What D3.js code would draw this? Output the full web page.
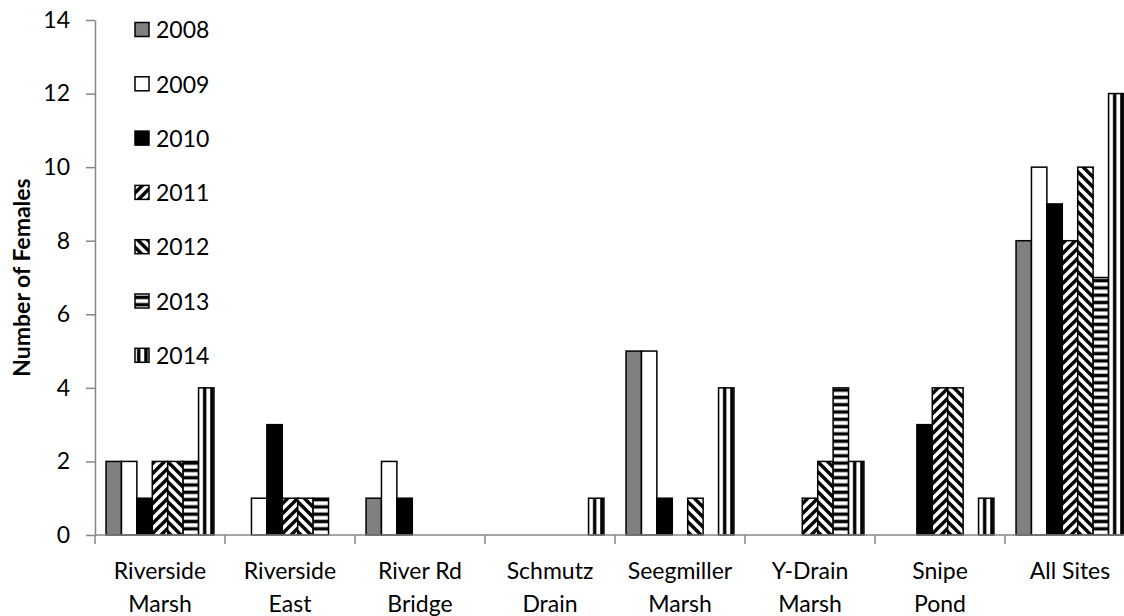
<!DOCTYPE html>
<html>
<head>
<meta charset="utf-8">
<script src="https://cdn.jsdelivr.net/npm/d3@7"></script>
<style>
  body { margin: 0; background: #fff; }
  text { font-family: Lato, "Open Sans", sans-serif; fill: #000; }
</style>
</head>
<body>
<svg id="chart"></svg>
<script>
// --- Data ---
const sites = [
    ["Riverside", "Marsh"], ["Riverside", "East"], ["River Rd", "Bridge"], ["Schmutz", "Drain"],
    ["Seegmiller", "Marsh"], ["Y-Drain", "Marsh"], ["Snipe", "Pond"], ["All Sites"]
];
const years = ["2008", "2009", "2010", "2011", "2012", "2013", "2014"];
// counts[site][year]
const counts = [
    [2, 2, 1, 2, 2, 2, 4],
    [0, 1, 3, 1, 1, 1, 0],
    [1, 2, 1, 0, 0, 0, 0],
    [0, 0, 0, 0, 0, 0, 1],
    [5, 5, 1, 0, 1, 0, 4],
    [0, 0, 0, 1, 2, 4, 2],
    [0, 0, 3, 4, 4, 0, 1],
    [8, 10, 9, 8, 10, 7, 12]
];
const yTicks = [0, 2, 4, 6, 8, 10, 12, 14];

// --- Layout ---
const width = 1124, height = 616;
const plot = { left: 95, right: 1135, top: 20, bottom: 535 };
const axisColor = "#868686";
const fontSize = "23px";

const svg = d3.select("#chart").attr("width", width).attr("height", height);

// --- Fill patterns (one per year) ---
const defs = svg.append("defs");

function stripePattern(id, size, draw) {
    const p = defs.append("pattern")
        .attr("id", id)
        .attr("patternUnits", "userSpaceOnUse")
        .attr("width", size).attr("height", size);
    p.append("rect").attr("width", size).attr("height", size).attr("fill", "#fff");
    draw(p, size);
}
// 2011: wide upward diagonal
stripePattern("p2011", 10, (p, s) => {
    p.append("path")
        .attr("d", `M0,${s} L${s},0 M${-s / 2},${s / 2} L${s / 2},${-s / 2} M${s / 2},${s * 1.5} L${s * 1.5},${s / 2}`)
        .attr("stroke", "#000").attr("stroke-width", 3.4);
});
// 2012: wide downward diagonal
stripePattern("p2012", 10, (p, s) => {
    p.append("path")
        .attr("d", `M0,0 L${s},${s} M${-s / 2},${s / 2} L${s / 2},${s * 1.5} M${s / 2},${-s / 2} L${s * 1.5},${s / 2}`)
        .attr("stroke", "#000").attr("stroke-width", 3.4);
});
// 2013: horizontal stripes
stripePattern("p2013", 7.3, (p, s) => {
    p.append("rect").attr("y", 1.5).attr("width", s).attr("height", 3.4).attr("fill", "#000");
});
// 2014: vertical stripes
stripePattern("p2014", 7.3, (p, s) => {
    p.append("rect").attr("x", 2).attr("width", 3.4).attr("height", s).attr("fill", "#000");
});

const fills = {
    "2008": "#808080",
    "2009": "#ffffff",
    "2010": "#000000",
    "2011": "url(#p2011)",
    "2012": "url(#p2012)",
    "2013": "url(#p2013)",
    "2014": "url(#p2014)"
};

// --- Scales ---
const x0 = d3.scaleBand()
    .domain(d3.range(sites.length))
    .range([plot.left, plot.right])
    .paddingInner(0.17)
    .paddingOuter(0.085);

const x1 = d3.scaleBand()
    .domain(years)
    .range([0, x0.bandwidth()]);

const y = d3.scaleLinear().domain([0, 14]).range([plot.bottom, plot.top]);

// --- Y axis ---
const yAxis = svg.append("g")
    .attr("transform", `translate(${plot.left},0)`)
    .call(d3.axisLeft(y).tickValues(yTicks).tickSize(9).tickPadding(16).tickSizeOuter(0));
yAxis.select(".domain").attr("stroke", axisColor).attr("stroke-width", 1.5);
yAxis.selectAll(".tick line").attr("stroke", axisColor).attr("stroke-width", 1.5);
yAxis.selectAll(".tick text")
    .style("font-family", "Lato, sans-serif")
    .style("font-size", fontSize)
    .attr("fill", "#000");

svg.append("text")
    .attr("transform", `translate(30,${(plot.top + plot.bottom) / 2}) rotate(-90)`)
    .attr("text-anchor", "middle")
    .style("font-size", "23px")
    .style("font-weight", "bold")
    .text("Number of Females");

// --- Bars ---
const groups = svg.append("g").selectAll("g")
    .data(counts)
    .join("g")
    .attr("transform", (d, i) => `translate(${x0(i)},0)`);

groups.selectAll("rect")
    .data(d => d.map((v, j) => ({ year: years[j], value: v })).filter(e => e.value > 0))
    .join("rect")
    .attr("x", d => x1(d.year))
    .attr("y", d => y(d.value))
    .attr("width", x1.bandwidth())
    .attr("height", d => y(0) - y(d.value))
    .attr("fill", d => fills[d.year])
    .attr("stroke", "#000")
    .attr("stroke-width", 1.5);

// --- X axis (ticks between categories) ---
const xAxis = svg.append("g");
xAxis.append("line")
    .attr("x1", plot.left).attr("x2", plot.right)
    .attr("y1", plot.bottom).attr("y2", plot.bottom)
    .attr("stroke", axisColor).attr("stroke-width", 1.5);
xAxis.selectAll(".xtick")
    .data(d3.range(sites.length + 1))
    .join("line")
    .attr("class", "xtick")
    .attr("x1", i => plot.left + i * x0.step())
    .attr("x2", i => plot.left + i * x0.step())
    .attr("y1", plot.bottom).attr("y2", plot.bottom + 9)
    .attr("stroke", axisColor).attr("stroke-width", 1.5);

const labels = xAxis.selectAll(".xlabel")
    .data(sites)
    .join("text")
    .attr("class", "xlabel")
    .attr("text-anchor", "middle")
    .style("font-size", fontSize)
    .attr("x", (d, i) => plot.left + (i + 0.5) * x0.step())
    .attr("y", 579);
labels.selectAll("tspan")
    .data(d => d)
    .join("tspan")
    .attr("x", function () { return d3.select(this.parentNode).attr("x"); })
    .attr("dy", (d, k) => k === 0 ? 0 : 33)
    .text(d => d);

// --- Legend ---
const legend = svg.append("g").selectAll("g")
    .data(years)
    .join("g")
    .attr("transform", (d, i) => `translate(135,${30 + i * 54.3})`);
legend.append("rect")
    .attr("x", 0).attr("y", -7.5)
    .attr("width", 14).attr("height", 14)
    .attr("fill", d => fills[d])
    .attr("stroke", "#000").attr("stroke-width", 1.5);
legend.append("text")
    .attr("x", 21).attr("y", 0).attr("dy", "0.36em")
    .style("font-size", fontSize)
    .text(d => d);
</script>
</body>
</html>
